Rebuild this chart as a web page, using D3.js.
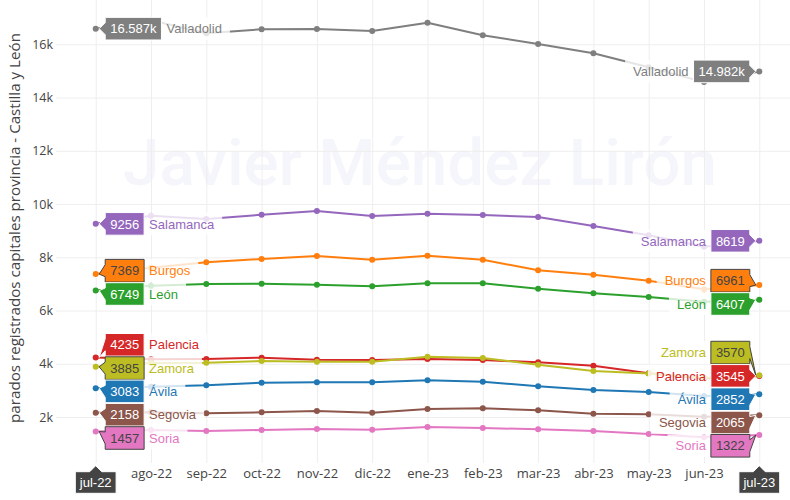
<!DOCTYPE html>
<html><head><meta charset="utf-8">
<script src="https://cdn.jsdelivr.net/npm/d3@7"></script>
<style>body{margin:0;background:#fff}svg{display:block}</style>
</head><body>
<svg id="chart" width="790" height="500"></svg>
<script>
// ---- data ----
const months = ["jul-22","ago-22","sep-22","oct-22","nov-22","dic-22","ene-23","feb-23","mar-23","abr-23","may-23","jun-23","jul-23"];
const yTicks = [2000,4000,6000,8000,10000,12000,14000,16000];
const seriesNames = ["Ávila","Burgos","León","Palencia","Salamanca","Segovia","Soria","Valladolid","Zamora"];
const seriesColors = ["#1f77b4","#ff7f0e","#2ca02c","#d62728","#9467bd","#8c564b","#e377c2","#7f7f7f","#bcbd22"];
const avila      = [3083, 3140, 3192, 3290, 3305, 3305, 3380, 3328, 3155, 3016, 2941, 2790, 2852];
const burgos     = [7369, 7610, 7812, 7936, 8049, 7911, 8061, 7911, 7512, 7347, 7122, 6798, 6961];
const leon       = [6749, 6934, 6997, 7009, 6971, 6911, 7023, 7023, 6821, 6648, 6509, 6333, 6407];
const palencia   = [4235, 4175, 4180, 4230, 4155, 4143, 4180, 4143, 4056, 3929, 3643, 3450, 3545];
const salamanca  = [9256, 9563, 9439, 9600, 9739, 9551, 9638, 9589, 9514, 9175, 8826, 8398, 8619];
const segovia    = [2158, 2178, 2141, 2178, 2225, 2163, 2302, 2329, 2253, 2126, 2103, 2013, 2065];
const soria      = [1457, 1514, 1476, 1514, 1555, 1525, 1626, 1589, 1540, 1476, 1363, 1239, 1322];
const valladolid = [16587, 16900, 16413, 16563, 16575, 16500, 16811, 16338, 16011, 15662, 15140, 14580, 14982];
const zamora     = [3885, 4030, 4041, 4105, 4079, 4079, 4267, 4218, 3966, 3730, 3640, 3480, 3570];
const seriesValues = [avila, burgos, leon, palencia, salamanca, segovia, soria, valladolid, zamora];
const yTitle = "parados registrados capitales provincia - Castilla y León";
const watermarkText = "Javier Méndez Lirón";

// ---- layout ----
const svg = d3.select("#chart");
const plotL = 56, plotR = 790, plotT = 0, plotB = 463;
const x = d3.scalePoint().domain(months).range([95.7, 759.3]);
const y = d3.scaleLinear().domain([274, 17664]).range([plotB, plotT]);
const tickFont = "'Open Sans', sans-serif";
const hoverFont = "Arial, 'Liberation Sans', sans-serif";

// watermark
const wm = svg.append("text").text(watermarkText)
  .attr("font-family", "Roboto, sans-serif").attr("font-weight", 500)
  .attr("font-size", 60).attr("fill", "#f5f6fb")
  .attr("text-anchor", "middle").attr("x", 420).attr("y", 185);
const wmw = wm.node().getComputedTextLength();
wm.attr("font-size", 60 * 594 / wmw);

// y grid & axis
const gy = svg.append("g").attr("transform", `translate(${plotL},0)`)
  .call(d3.axisLeft(y).tickValues(yTicks).tickSize(-(plotR - plotL)).tickPadding(3)
    .tickFormat(d => (d / 1000) + "k"));
gy.select(".domain").remove();
gy.selectAll(".tick line").attr("stroke", "#eee");
gy.selectAll(".tick text").attr("font-family", tickFont).attr("font-size", 12.5).attr("fill", "#444");

// x grid & axis
const gx = svg.append("g").attr("transform", `translate(0,${plotB})`)
  .call(d3.axisBottom(x).tickSize(-(plotB - plotT)).tickPadding(6));
gx.select(".domain").remove();
gx.selectAll(".tick line").attr("stroke", "#eee");
gx.selectAll(".tick text").attr("font-family", tickFont).attr("font-size", 13).attr("fill", "#444")
  .filter(d => d === months[0] || d === months[months.length - 1]).remove();

// y title
const yt = svg.append("text").text(yTitle)
  .attr("transform", `translate(20,228) rotate(-90)`)
  .attr("text-anchor", "middle").attr("font-family", tickFont).attr("font-size", 14).attr("fill", "#444");
const ytw = yt.node().getComputedTextLength();
yt.attr("font-size", 14 * 390 / ytw);

// traces
const line = d3.line().x((d, i) => x(months[i])).y(d => y(d));
seriesValues.forEach((vals, si) => {
  const g = svg.append("g");
  g.append("path").attr("d", line(vals)).attr("fill", "none")
    .attr("stroke", seriesColors[si]).attr("stroke-width", 2).attr("stroke-linejoin", "round");
  g.selectAll("circle").data(vals).join("circle")
    .attr("cx", (d, i) => x(months[i])).attr("cy", d => y(d)).attr("r", 3)
    .attr("fill", seriesColors[si]);
});

// ---- hover labels ----
const meas = svg.append("text").attr("font-family", hoverFont).attr("font-size", 13);
function tw(s) { meas.text(s); return meas.node().getComputedTextLength(); }
function fmt(v) { return v >= 10000 ? (v / 1000).toFixed(3) + "k" : String(v); }
function contrast(c) {
  const rgb = d3.rgb(c);
  const br = (rgb.r * 299 + rgb.g * 587 + rgb.b * 114) / 1000;
  return br < 128 ? "#fff" : "#444";
}
const H = 22.6, SP = 23.3, ARW = 6;

function layoutLabels(items) {
  items.sort((a, b) => a.ay - b.ay);
  let groups = items.map(it => ({ items: [it] }));
  const center = g => d3.mean(g.items, d => d.ay);
  let changed = true;
  while (changed) {
    changed = false;
    for (let i = 0; i < groups.length - 1; i++) {
      const g1 = groups[i], g2 = groups[i + 1];
      const b1 = center(g1) + g1.items.length * SP / 2;
      const t2 = center(g2) - g2.items.length * SP / 2;
      if (b1 > t2) {
        groups.splice(i, 2, { items: g1.items.concat(g2.items) });
        changed = true; break;
      }
    }
  }
  groups.forEach(g => {
    const c = center(g), n = g.items.length;
    g.items.forEach((it, k) => { it.ly = c + (k - (n - 1) / 2) * SP; });
  });
  return items;
}

function drawSide(idx, sign) {
  const px = x(months[idx]);
  const tipX = px + sign * 3.5;
  const items = seriesValues.map((vals, si) => ({
    ay: y(vals[idx]), val: fmt(vals[idx]), name: seriesNames[si], color: seriesColors[si]
  }));
  layoutLabels(items);
  const bgLayer = svg.append("g"), lblLayer = svg.append("g");
  items.forEach(it => {
    const w = tw(it.val) + 10;
    const nw = tw(it.name);
    const off = it.ly - it.ay;
    const bx0 = tipX + sign * (ARW + w);
    const bx1 = bx0 + sign * (nw + 13);
    bgLayer.append("rect")
      .attr("x", Math.min(bx0, bx1)).attr("y", it.ly - H / 2)
      .attr("width", Math.abs(bx1 - bx0)).attr("height", H)
      .attr("fill", "#fff").attr("opacity", 0.8);
    const g = lblLayer.append("g").attr("transform", `translate(${tipX},${it.ay})`);
    const fg = contrast(it.color);
    g.append("path")
      .attr("d", `M0,0L${sign * ARW},${ARW + off}v${H / 2 - ARW}h${sign * w}v${-H}H${sign * ARW}V${off - ARW}Z`)
      .attr("fill", it.color).attr("stroke", fg).attr("stroke-width", 1);
    g.append("text").text(it.val)
      .attr("x", sign * (ARW + w / 2)).attr("y", off).attr("dy", "0.36em")
      .attr("text-anchor", "middle").attr("font-family", hoverFont).attr("font-size", 13).attr("fill", fg);
    g.append("text").text(it.name)
      .attr("x", sign * (ARW + w + 5)).attr("y", off).attr("dy", "0.36em")
      .attr("text-anchor", sign > 0 ? "start" : "end")
      .attr("font-family", hoverFont).attr("font-size", 13).attr("fill", it.color);
  });
  // x-axis hover label
  const xl = months[idx];
  const xw = tw(xl) + 9, xh = 21.6;
  const gxl = svg.append("g").attr("transform", `translate(${px},${plotB + 2.7})`);
  gxl.append("path")
    .attr("d", `M0,0L${ARW},${ARW}H${xw / 2}V${ARW + xh}H${-xw / 2}V${ARW}H${-ARW}Z`)
    .attr("fill", "#444").attr("stroke", "#fff").attr("stroke-width", 1);
  gxl.append("text").text(xl).attr("x", 0).attr("y", ARW + xh / 2).attr("dy", "0.36em")
    .attr("text-anchor", "middle").attr("font-family", hoverFont).attr("font-size", 13).attr("fill", "#fff");
}
drawSide(0, 1);
drawSide(months.length - 1, -1);
meas.remove();
</script>
</body></html>
